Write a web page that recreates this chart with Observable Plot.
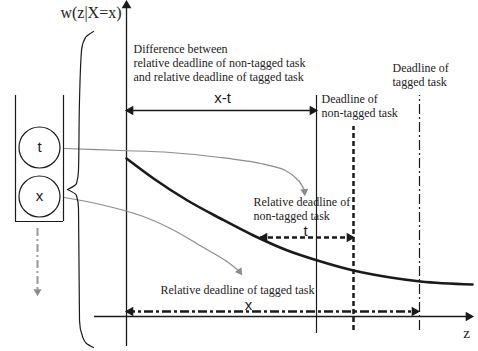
<!DOCTYPE html>
<html><head><meta charset="utf-8">
<script src="https://cdn.jsdelivr.net/npm/d3@7"></script>
<script src="https://cdn.jsdelivr.net/npm/@observablehq/plot@0.6"></script>
<style>body{margin:0;background:#fff}</style>
</head><body><div id="chart"></div>
<script>
// Diagram coordinates: z (horizontal, 0 at the w-axis), w (vertical, 0 at the z-axis)
const densityCurve = [[0,158],[27,138],[61,116],[94,98],[127,81],[161,66],[191,56],[227,46],[264,39],[294,35],[346,32]];
const arcFromT = [[-62,168],[-6,166],[44,164],[94,159],[134,153],[159,146],[172,136],[178,126]];
const arcFromX = [[-62,119],[-26,112],[14,101],[44,88],[77,69],[99,56],[113,45]];
const braceUpper = [[-33,285],[-41,279],[-45,266],[-47,216],[-48,146],[-50,133],[-59,127]];
const braceLower = [[-59,127],[-50,121],[-48,108],[-47,-4],[-44,-20],[-40,-27],[-33,-31]];
const axisZ = [{z1:-32, z2:346, w:0}];
const axisW = [{z:0, w1:-30, w2:313}];
const deadlineNonTagged = [{z:190, w1:-17, w2:221}];
const relDeadlineNonTagged = [{z:227, w1:-14, w2:190}];
const deadlineTagged = [{z:293, w1:-14, w2:221}];
const spanXminusT = [{z1:0, z2:190, w:206}];
const spanT = [{z1:134, z2:227, w:79}];
const spanX = [{z1:0, z2:292, w:5}];
const queueWalls = [{z:-111, w1:95, w2:221},{z:-63, w1:95, w2:221}];
const queueFloor = [{z1:-111, z2:-63, w:95}];
const queueItems = [{z:-87, w:169, label:"t"},{z:-87, w:120, label:"x"}];
const queueFlow = [{z:-89, w1:88, w2:26}];
const headsBlack = [{z:0,w:311,a:0},{z:342,w:0,a:90},{z:4,w:206,a:-90},{z:186,w:206,a:90},
  {z:138,w:79,a:-90},{z:223,w:79,a:90},{z:4,w:5,a:-90},{z:288,w:5,a:90}];
const headsGray = [{z:-89,w:25,a:180},{z:178,w:125,a:175},{z:113,w:45,a:145}];
const serifBlocks = [
  {z:7, w:254, text:"Difference between\nrelative deadline of non-tagged task\nand relative deadline of tagged task"},
  {z:195, w:211, text:"Deadline of\nnon-tagged task"},
  {z:266, w:242, text:"Deadline of\ntagged task"},
  {z:127, w:108, text:"Relative deadline of\nnon-tagged task"},
  {z:34, w:27, text:"Relative deadline of tagged task"}
];
const spanLabels = [{z:96, w:218, text:"x-t"},{z:179, w:85, text:"t"},{z:122, w:11, text:"x"}];
const axisTitles = [{z:-5, w:304, text:"w(z|X=x)", anchor:"end"},{z:340, w:-17, text:"z", anchor:"middle"}];

const rows = pts => pts.map(([z,w]) => ({z,w}));
const ink = "#1a1a1a", gray = "#8c8c8c";
const serif = "Liberation Serif";
const sans = "Liberation Sans";

const chart = Plot.plot({
  width: 478, height: 351,
  margin: 0,
  x: {domain: [-126, 352], axis: null},
  y: {domain: [-35, 316], axis: null},
  marks: [
    // axes
    Plot.ruleY(axisZ, {y:"w", x1:"z1", x2:"z2", stroke: ink, strokeWidth: 1.3}),
    Plot.ruleX(axisW, {x:"z", y1:"w1", y2:"w2", stroke: ink, strokeWidth: 1.3}),
    // deadlines
    Plot.ruleX(deadlineNonTagged, {x:"z", y1:"w1", y2:"w2", stroke: ink, strokeWidth: 1.2}),
    Plot.ruleX(relDeadlineNonTagged, {x:"z", y1:"w1", y2:"w2", stroke: ink, strokeWidth: 2.5, strokeDasharray: "5,3"}),
    Plot.ruleX(deadlineTagged, {x:"z", y1:"w1", y2:"w2", stroke: ink, strokeWidth: 1.2, strokeDasharray: "10,3,2,3"}),
    // spans
    Plot.ruleY(spanXminusT, {y:"w", x1:"z1", x2:"z2", stroke: ink, strokeWidth: 1.3}),
    Plot.ruleY(spanT, {y:"w", x1:"z1", x2:"z2", stroke: ink, strokeWidth: 2.5, strokeDasharray: "5,3"}),
    Plot.ruleY(spanX, {y:"w", x1:"z1", x2:"z2", stroke: ink, strokeWidth: 2.5, strokeDasharray: "9,3,3,3"}),
    // density curve
    Plot.line(rows(densityCurve), {x:"z", y:"w", stroke: ink, strokeWidth: 2.6, curve: "monotone-x"}),
    // gray arcs
    Plot.line(rows(arcFromT), {x:"z", y:"w", stroke: gray, strokeWidth: 1.2, curve: "catmull-rom"}),
    Plot.line(rows(arcFromX), {x:"z", y:"w", stroke: gray, strokeWidth: 1.2, curve: "catmull-rom"}),
    // brace
    Plot.line(rows(braceUpper), {x:"z", y:"w", stroke: ink, strokeWidth: 1.2, curve: "monotone-y"}),
    Plot.line(rows(braceLower), {x:"z", y:"w", stroke: ink, strokeWidth: 1.2, curve: "monotone-y"}),
    // queue
    Plot.ruleX(queueWalls, {x:"z", y1:"w1", y2:"w2", stroke: ink, strokeWidth: 1.2}),
    Plot.ruleY(queueFloor, {y:"w", x1:"z1", x2:"z2", stroke: ink, strokeWidth: 1.2}),
    Plot.dot(queueItems, {x:"z", y:"w", r: 20.5, stroke: ink, strokeWidth: 1.2, fill: "#fff"}),
    Plot.text(queueItems, {x:"z", y:"w", text:"label", fontFamily: sans, fontSize: 15, fill: ink}),
    Plot.ruleX(queueFlow, {x:"z", y1:"w1", y2:"w2", stroke: "#999", strokeWidth: 2, strokeDasharray: "8,3,2,3"}),
    // arrowheads
    Plot.dot(headsBlack, {x:"z", y:"w", rotate:"a", symbol:"triangle", r: 3.6, fill: ink, stroke: "none"}),
    Plot.dot(headsGray, {x:"z", y:"w", rotate:"a", symbol:"triangle", r: 3, fill: gray, stroke: "none"}),
    // text
    Plot.text(serifBlocks, {x:"z", y:"w", text:"text", textAnchor:"start", lineAnchor:"middle", lineHeight: 1.17, fontFamily: serif, fontSize: 12, fill: "#222"}),
    Plot.text(spanLabels, {x:"z", y:"w", text:"text", fontFamily: sans, fontSize: 15, fill: ink}),
    Plot.text(axisTitles.filter(d => d.anchor === "end"), {x:"z", y:"w", text:"text", textAnchor:"end", fontFamily: serif, fontSize: 16, fill: "#222"}),
    Plot.text(axisTitles.filter(d => d.anchor === "middle"), {x:"z", y:"w", text:"text", fontFamily: serif, fontSize: 15, fill: "#222"})
  ]
});
document.getElementById("chart").appendChild(chart);
</script>
</body></html>
